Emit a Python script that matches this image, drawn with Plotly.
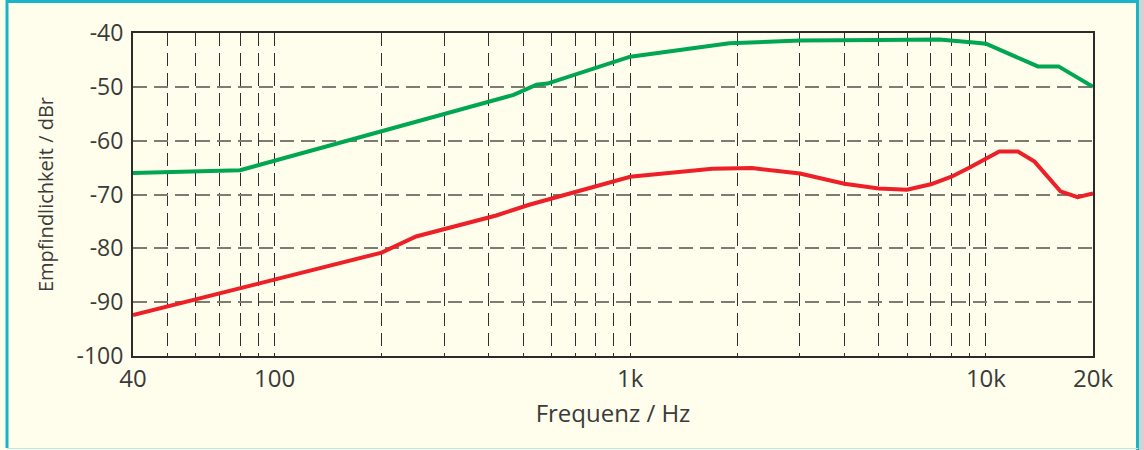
import plotly.graph_objects as go

# --- data ---
green_freq = [40, 80, 470, 545, 585, 1000, 1900, 3000, 5000, 7400, 9400, 10000, 14000, 16000, 20000]
green_db = [-66.0, -65.5, -51.5, -49.6, -49.4, -44.4, -41.9, -41.4, -41.3, -41.2, -41.8, -42.0, -46.2, -46.2, -50.0]

red_freq = [40, 200, 250, 420, 520, 1000, 1700, 2200, 3000, 4000, 5000, 6000, 7000, 8000, 9000, 10900, 12300, 13700, 16200, 18100, 20000]
red_db = [-92.4, -80.8, -77.8, -73.9, -71.9, -66.7, -65.2, -65.1, -66.1, -68.0, -68.9, -69.1, -68.1, -66.7, -65.0, -62.0, -62.0, -63.9, -69.4, -70.5, -69.8]

x_major = [40, 100, 1000, 10000, 20000]
x_major_text = ["40", "100", "1k", "10k", "20k"]
x_minor = [50, 60, 70, 80, 90, 200, 300, 400, 500, 600, 700, 800, 900,
           2000, 3000, 4000, 5000, 6000, 7000, 8000, 9000]
y_ticks = [-40, -50, -60, -70, -80, -90, -100]

FONT = "Open Sans"
TXT = "#3a3a3a"
BG = "#FFFEEC"

fig = go.Figure()
fig.add_trace(go.Scatter(x=green_freq, y=green_db, mode="lines",
                         line=dict(color="#00A651", width=4), showlegend=False))
fig.add_trace(go.Scatter(x=red_freq, y=red_db, mode="lines",
                         line=dict(color="#EE2027", width=4), showlegend=False))

L, R, T, B = 133, 51, 33, 94
W, H = 1144, 450
pw, ph = W - L - R, H - T - B

def px(xp):
    return (xp - L) / pw

def py(yp):
    return (H - B - yp) / ph

fig.update_layout(
    width=W, height=H,
    margin=dict(l=L, r=R, t=T, b=B),
    paper_bgcolor=BG, plot_bgcolor=BG,
    font=dict(family=FONT, color=TXT, size=19),
    xaxis=dict(
        type="log", range=[1.60206, 4.30103], automargin=False,
        tickmode="array", tickvals=x_major, ticktext=x_major_text,
        tickfont=dict(size=24, color=TXT),
        showgrid=True, gridcolor="#2b2b2b", gridwidth=1.2, griddash="13px,7px",
        minor=dict(tickmode="array", tickvals=x_minor, showgrid=True,
                   gridcolor="#2f2f2f", gridwidth=1.2, griddash="13px,7px", ticklen=0),
        showline=True, linecolor="#2b2b2b", linewidth=2, mirror=True,
        ticks="", zeroline=False,
        title=dict(text="Frequenz / Hz", font=dict(size=24, color=TXT), standoff=12),
    ),
    yaxis=dict(
        range=[-100, -40], tickmode="array", tickvals=y_ticks, automargin=False,
        ticktext=[str(v) for v in y_ticks],
        tickfont=dict(size=23, color=TXT),
        showgrid=True, gridcolor="#7d7b72", gridwidth=1.5, griddash="14px,7px",
        showline=True, linecolor="#2b2b2b", linewidth=2, mirror=True,
        ticks="", zeroline=False, ticklabelstandoff=3,
        title=dict(text="Empfindlichkeit / dBr", font=dict(size=20, color=TXT), standoff=18),
    ),
    shapes=[
        dict(type="rect", xref="paper", yref="paper", x0=px(1139), x1=px(1145), y0=py(-1), y1=py(451),
             fillcolor="#D2D2D2", line=dict(width=0)),
        dict(type="line", xref="paper", yref="paper", x0=px(7), x1=px(7), y0=py(0), y1=py(448),
             line=dict(color="#1AB4C9", width=3)),
        dict(type="line", xref="paper", yref="paper", x0=px(6), x1=px(1138), y0=py(1.5), y1=py(1.5),
             line=dict(color="#1AB4C9", width=3)),
        dict(type="line", xref="paper", yref="paper", x0=px(1137.5), x1=px(1137.5), y0=py(0), y1=py(450),
             line=dict(color="#1AB4C9", width=3)),
        dict(type="line", xref="paper", yref="paper", x0=px(7), x1=px(1138), y0=py(448.5), y1=py(448.5),
             line=dict(color="#BFE6E6", width=1)),
    ],
)

fig.write_html("out.html", config={"displayModeBar": False},
               post_script="document.body.style.margin='0px';document.body.style.overflow='hidden';")
